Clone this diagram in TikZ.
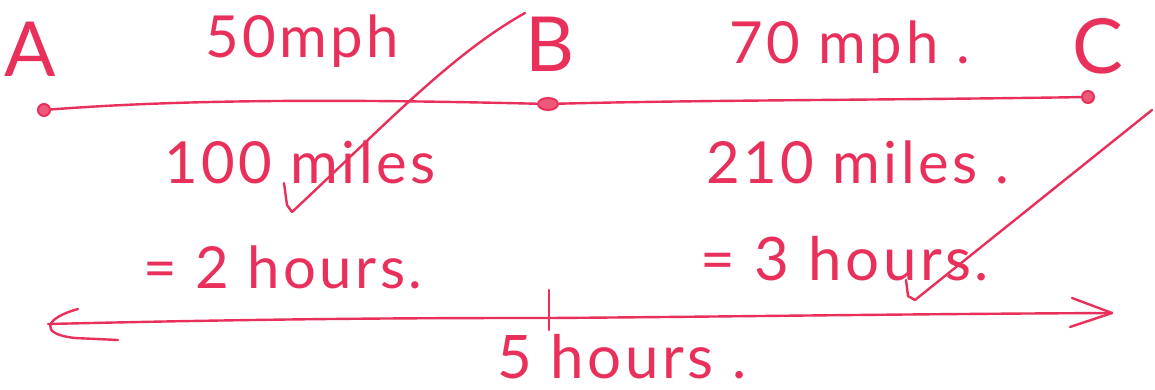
\documentclass[tikz,border=0pt]{standalone}
\usepackage{fontspec}
\setmainfont{Lato}[LetterSpace=6]
\usetikzlibrary{shapes.geometric}
\definecolor{ink}{HTML}{E8305A}
\begin{document}
\begin{tikzpicture}[x=0.5pt,y=-0.5pt,
  pen/.style={draw=ink, line width=1.2pt, line cap=round, line join=round},
  lbl/.style={text=ink, font=\fontsize{29}{34}\selectfont, inner sep=0, anchor=base},
  big/.style={text=ink, font=\fontsize{38}{44}\selectfont, inner sep=0, anchor=base},
  dotc/.style={circle, draw=ink, fill=ink!80, line width=1pt, minimum size=6pt, inner sep=0},
  dote/.style={ellipse, draw=ink, fill=ink!80, line width=1pt, minimum width=10pt, minimum height=6pt, inner sep=0}]
\useasboundingbox (0,0) rectangle (1155,390);
% labels
\node[big] (la) at (30,76) {A};
\node[big] (lb) at (550,72) {B};
\node[big] (lc) at (1098,74) {C};
\node[lbl] (s1) at (302,58) {50mph};
\node[lbl] (s2) at (850,64) {70 mph .};
\node[lbl] (d1) at (300,183) {100 miles};
\node[lbl] (d2) at (858,183) {210 miles .};
\node[lbl] (t1) at (283,288) {= 2 hours.};
\node[lbl, font=\fontsize{30}{34}\selectfont] (t2) at (845,280) {= 3 hours.};
\node[lbl, font=\fontsize{30}{34}\selectfont] (tot) at (622,378) {5 hours .};
% points and line
\node[dotc] (A) at (44,110) {};
\node[dote] (B) at (548,104) {};
\node[dotc] (C) at (1088,97) {};
\draw[pen] (A) .. controls (200,98) and (380,100) .. (B);
\draw[pen] (B) .. controls (700,100) and (900,100) .. (C);
% bottom arrow
\coordinate (L) at (48,324);
\coordinate (R) at (1112,313);
\coordinate (M) at (549,318);
\draw[pen] (L) .. controls (300,318) and (450,318) .. (M) .. controls (700,317) and (900,314) .. (R);
\draw[pen] (78,309) .. controls (45,318) and (38,334) .. (75,338) -- (118,340);
\draw[pen] (1072,298) -- (R) -- (1070,327);
\draw[pen] ([yshift=14pt]M) -- ([yshift=-6pt]M);
% check marks
\coordinate (k1) at (292,212);
\draw[pen] (284,183) -- (287,205) -- (k1) .. controls (380,130) and (450,55) .. (525,13);
\coordinate (k2) at (915,300);
\draw[pen] (906,280) -- (908,296) -- (k2) -- (1152,110);
\end{tikzpicture}
\end{document}
